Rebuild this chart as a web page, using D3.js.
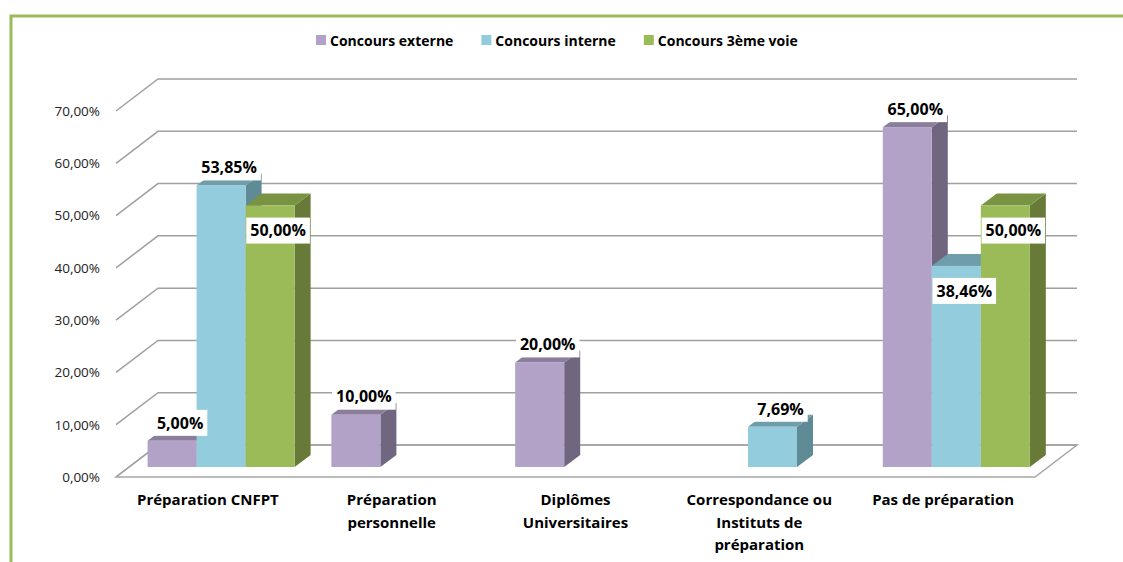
<!DOCTYPE html>
<html>
<head>
  <meta charset="utf-8">
  <script src="https://d3js.org/d3.v7.min.js"></script>
  <style>
    body { margin: 0; background: #fff; }
    text { font-family: "Open Sans", "Noto Sans", sans-serif; fill: #000; }
  </style>
</head>
<body>
<script>
  // data
  var categories = [
    ["Préparation CNFPT"],
    ["Préparation", "personnelle"],
    ["Diplômes", "Universitaires"],
    ["Correspondance ou", "Instituts de", "préparation"],
    ["Pas de préparation"]
  ];
  var seriesNames = ["Concours externe", "Concours interne", "Concours 3ème voie"];
  var externe   = [5, 10, 20, null, 65];
  var interne   = [53.85, null, null, 7.69, 38.46];
  var troisieme = [50, null, null, null, 50];
  var yTicks = [0, 10, 20, 30, 40, 50, 60, 70];

  var series = [externe, interne, troisieme];

  // colours: front, side, top
  var colors = [
    ["#b3a2c7", "#716680", "#8a7e9c"],
    ["#93cddd", "#5f8b97", "#6f9daa"],
    ["#9bbb59", "#677a38", "#7a9342"]
  ];

  var width = 1123, height = 562;
  var DX = 42, DY = 32;        // floor depth
  var bx = 13.2, by = 10;      // bar plane offset from front
  var bdx = 16, bdy = 12;      // bar depth
  var left = 116, right = 1035, base = 477, top70 = 111;

  var svg = d3.select("body").append("svg")
    .attr("width", width).attr("height", height);

  var x = d3.scaleBand()
    .domain(d3.range(categories.length))
    .range([left, right])
    .paddingInner(0.2)
    .paddingOuter(0.1);
  var xs = d3.scaleBand()
    .domain(d3.range(series.length))
    .range([0, x.bandwidth()]);
  var y = d3.scaleLinear().domain([0, 70]).range([base, top70]);

  var fmt = function(v) { return d3.format(".2f")(v).replace(".", ",") + "%"; };

  // floor
  svg.append("polygon")
    .attr("points", [[left, base], [right, base], [right + DX, base - DY], [left + DX, base - DY]].join(" "))
    .attr("fill", "#fff")
    .attr("stroke", "#a6a6a6")
    .attr("stroke-width", 1.5);

  // gridlines (left wall diagonal + back wall)
  var grid = svg.append("g").attr("stroke", "#a0a0a0").attr("stroke-width", 1.5).attr("fill", "none");
  yTicks.forEach(function(t) {
    var yy = y(t);
    grid.append("polyline")
      .attr("points", [[left, yy], [left + DX, yy - DY], [right + DX, yy - DY]].join(" "));
  });

  // bars
  var bars = svg.append("g");
  categories.forEach(function(c, i) {
    series.forEach(function(s, k) {
      var v = s[i];
      if (v == null) return;
      var x0 = x(i) + xs(k) + bx, x1 = x0 + xs.bandwidth();
      var yb = y(0) - by, yt = y(v) - by;
      var col = colors[k];
      bars.append("polygon")
        .attr("points", [[x1, yt], [x1 + bdx, yt - bdy], [x1 + bdx, yb - bdy], [x1, yb]].join(" "))
        .attr("fill", col[1]);
      bars.append("polygon")
        .attr("points", [[x0, yt], [x0 + bdx, yt - bdy], [x1 + bdx, yt - bdy], [x1, yt]].join(" "))
        .attr("fill", col[2]);
      bars.append("rect")
        .attr("x", x0).attr("y", yt)
        .attr("width", x1 - x0).attr("height", yb - yt)
        .attr("fill", col[0]);
    });
  });

  // data labels; some sit inside the bar like in the original
  var inside = { "0-2": 1, "4-1": 1, "4-2": 1 };
  var labels = svg.append("g");
  categories.forEach(function(c, i) {
    series.forEach(function(s, k) {
      var v = s[i];
      if (v == null) return;
      var cx = x(i) + xs(k) + bx + xs.bandwidth() / 2 + bdx / 2;
      var cy = y(v) - by + (inside[i + "-" + k] ? 25 : -18);
      var g = labels.append("g");
      var t = g.append("text")
        .attr("x", cx).attr("y", cy)
        .attr("text-anchor", "middle")
        .attr("dy", "0.36em")
        .style("font-size", "16px")
        .style("font-weight", "bold")
        .text(fmt(v));
      var w = t.node().getComputedTextLength();
      g.insert("rect", "text")
        .attr("x", cx - w / 2 - 4).attr("y", cy - 13)
        .attr("width", w + 8).attr("height", 26)
        .attr("fill", "#fff");
    });
  });

  // y tick labels
  svg.append("g").selectAll("text")
    .data(yTicks).join("text")
    .attr("x", 100).attr("y", function(d) { return y(d); })
    .attr("dy", "0.36em")
    .attr("text-anchor", "end")
    .style("font-size", "13.5px")
    .style("fill", "#222")
    .text(function(d) { return fmt(d); });

  // category labels
  var cat = svg.append("g");
  categories.forEach(function(lines, i) {
    var t = cat.append("text")
      .attr("x", x(i) + x.bandwidth() / 2)
      .attr("y", 505)
      .attr("text-anchor", "middle")
      .style("font-size", "15px")
      .style("font-weight", "bold");
    lines.forEach(function(l, j) {
      t.append("tspan").attr("x", x(i) + x.bandwidth() / 2).attr("dy", j ? 22.5 : 0).text(l);
    });
  });

  // legend
  var legend = svg.append("g");
  var lx = 316;
  seriesNames.forEach(function(n, k) {
    legend.append("rect")
      .attr("x", lx).attr("y", 35).attr("width", 10).attr("height", 10)
      .attr("fill", colors[k][0]);
    var t = legend.append("text")
      .attr("x", lx + 14).attr("y", 45.5)
      .style("font-size", "14px")
      .style("font-weight", "bold")
      .text(n);
    lx += 14 + t.node().getComputedTextLength() + 28;
  });

  // green frame
  svg.append("path")
    .attr("d", "M11,562 V16 H1123")
    .attr("fill", "none")
    .attr("stroke", "#9bbb59")
    .attr("stroke-width", 3);
</script>
</body>
</html>
